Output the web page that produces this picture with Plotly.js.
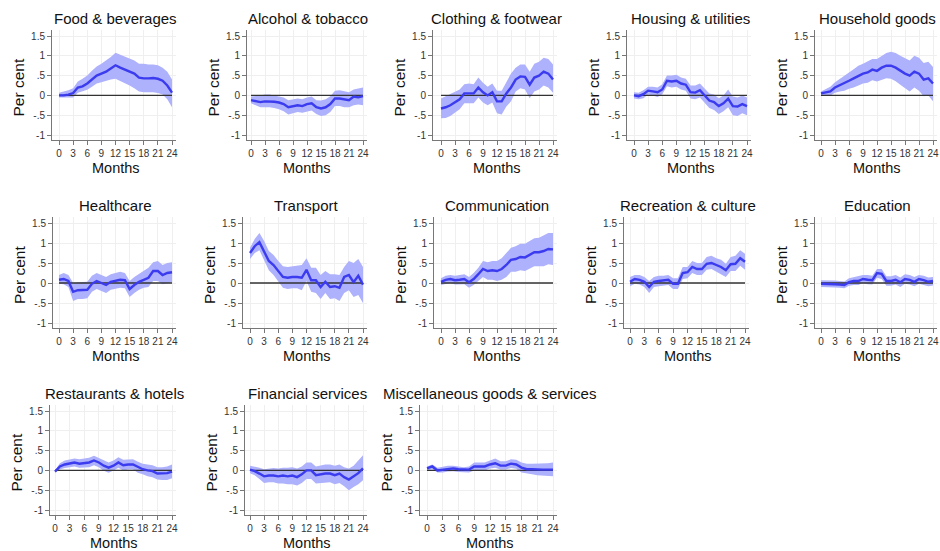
<!DOCTYPE html>
<html><head><meta charset="utf-8">
<script src="https://cdn.plot.ly/plotly-3.0.1.min.js"></script>
<style>html,body{margin:0;padding:0;background:#fff}#chart{width:940px;height:551px}</style>
</head><body><div id="chart"></div>
<script>
const months = [0,1,2,3,4,5,6,7,8,9,10,11,12,13,14,15,16,17,18,19,20,21,22,23,24];
const titles = ["Food & beverages","Alcohol & tobacco","Clothing & footwear","Housing & utilities","Household goods",
  "Healthcare","Transport","Communication","Recreation & culture","Education",
  "Restaurants & hotels","Financial services","Miscellaneous goods & services"];
const yTickVals = [-1,-0.5,0,0.5,1,1.5];
const yTickText = ["-1","-.5","0",".5","1","1.5"];
const xTickVals = [0,3,6,9,12,15,18,21,24];

const foodMid = [0,0,0.02,0.06,0.2,0.23,0.3,0.4,0.5,0.55,0.6,0.68,0.76,0.7,0.65,0.6,0.55,0.45,0.43,0.43,0.44,0.42,0.37,0.25,0.07];
const foodUp  = [0.07,0.1,0.13,0.18,0.35,0.42,0.5,0.62,0.73,0.8,0.88,0.97,1.08,1.03,0.98,0.93,0.88,0.8,0.8,0.78,0.78,0.76,0.7,0.6,0.4];
const foodLo  = [-0.05,-0.05,-0.06,-0.05,0.07,0.1,0.14,0.22,0.3,0.33,0.37,0.4,0.42,0.37,0.3,0.25,0.18,0.1,0.08,0.08,0.08,0.06,0.02,-0.1,-0.3];

const alcMid = [-0.12,-0.15,-0.17,-0.15,-0.15,-0.16,-0.18,-0.22,-0.3,-0.28,-0.25,-0.27,-0.22,-0.2,-0.3,-0.33,-0.3,-0.22,-0.08,-0.08,-0.1,-0.12,-0.03,-0.05,-0.02];
const alcUp  = [-0.03,-0.02,0,0.02,0.02,0,-0.02,-0.05,-0.12,-0.1,-0.08,-0.1,-0.05,-0.03,-0.12,-0.13,-0.1,-0.02,0.12,0.13,0.1,0.08,0.15,0.17,0.2];
const alcLo  = [-0.2,-0.25,-0.3,-0.3,-0.3,-0.32,-0.35,-0.4,-0.48,-0.45,-0.42,-0.44,-0.4,-0.38,-0.47,-0.52,-0.5,-0.42,-0.27,-0.27,-0.3,-0.3,-0.25,-0.23,-0.25];

const cloMid = [-0.33,-0.3,-0.25,-0.17,-0.1,0.05,0.05,0.05,0.2,0.08,0,0.08,-0.15,-0.15,0.05,0.2,0.4,0.48,0.47,0.27,0.45,0.5,0.6,0.55,0.4];
const cloUp  = [-0.08,-0.02,0.03,0.08,0.15,0.28,0.3,0.28,0.45,0.32,0.22,0.3,0.12,0.12,0.35,0.55,0.7,0.78,0.78,0.6,0.8,0.85,0.95,0.92,0.78];
const cloLo  = [-0.58,-0.57,-0.52,-0.43,-0.35,-0.2,-0.2,-0.2,-0.05,-0.18,-0.25,-0.18,-0.45,-0.48,-0.28,-0.15,0.1,0.18,0.15,-0.07,0.1,0.15,0.25,0.2,0.07];

const houMid = [0,-0.02,0.03,0.12,0.1,0.08,0.15,0.37,0.35,0.37,0.3,0.27,0.08,0.07,0.13,0,-0.13,-0.17,-0.27,-0.2,-0.08,-0.27,-0.28,-0.22,-0.27];
const houUp  = [0.08,0.07,0.13,0.22,0.22,0.2,0.28,0.5,0.5,0.52,0.45,0.42,0.25,0.25,0.3,0.18,0.05,0.02,-0.07,0,0.15,-0.03,-0.05,0,-0.05];
const houLo  = [-0.08,-0.1,-0.07,0.02,0,-0.04,0.03,0.23,0.2,0.22,0.15,0.12,-0.08,-0.1,-0.05,-0.18,-0.32,-0.37,-0.47,-0.4,-0.3,-0.5,-0.52,-0.45,-0.5];

const hhgMid = [0.05,0.08,0.1,0.2,0.25,0.3,0.37,0.43,0.5,0.55,0.58,0.65,0.62,0.7,0.75,0.75,0.7,0.62,0.55,0.5,0.6,0.55,0.4,0.43,0.3];
const hhgUp  = [0.1,0.15,0.22,0.33,0.42,0.5,0.58,0.66,0.75,0.8,0.85,0.92,0.92,1,1.07,1.1,1.07,1,0.95,0.88,1,0.95,0.82,0.85,0.72];
const hhgLo  = [0,0.01,0,0.07,0.1,0.12,0.17,0.2,0.25,0.3,0.32,0.38,0.35,0.4,0.43,0.42,0.36,0.27,0.18,0.1,0.2,0.12,-0.02,0,-0.15];

const hltMid = [0.08,0.1,0.05,-0.22,-0.18,-0.18,-0.17,-0.02,0.05,0,-0.05,0.03,0.05,0.08,0.07,-0.15,-0.05,0.03,0.08,0.13,0.3,0.3,0.2,0.25,0.27];
const hltUp  = [0.2,0.25,0.2,0,0.02,0.02,0.03,0.18,0.25,0.2,0.15,0.22,0.25,0.28,0.25,0.05,0.15,0.22,0.3,0.38,0.52,0.55,0.45,0.5,0.52];
const hltLo  = [-0.02,-0.03,-0.1,-0.45,-0.4,-0.4,-0.38,-0.22,-0.15,-0.2,-0.25,-0.17,-0.15,-0.12,-0.13,-0.35,-0.25,-0.17,-0.12,-0.1,0.05,0.05,-0.03,0,0.02];

const traMid = [0.75,0.92,1.02,0.8,0.55,0.45,0.3,0.15,0.13,0.15,0.15,0.13,0.33,0.07,0.07,-0.1,0.03,-0.1,-0.08,-0.12,0.15,0.2,0.02,0.18,-0.04];
const traUp  = [0.88,1.1,1.25,1.05,0.8,0.7,0.55,0.42,0.4,0.42,0.43,0.45,0.62,0.38,0.38,0.2,0.3,0.22,0.22,0.2,0.4,0.55,0.5,0.6,0.4];
const traLo  = [0.6,0.75,0.82,0.58,0.32,0.2,0.05,-0.12,-0.15,-0.13,-0.13,-0.18,0.05,-0.22,-0.25,-0.4,-0.25,-0.4,-0.38,-0.45,-0.25,-0.18,-0.35,-0.3,-0.5];

const comMid = [0.03,0.08,0.1,0.07,0.08,0.1,0.02,0.1,0.22,0.35,0.3,0.32,0.3,0.35,0.45,0.58,0.6,0.65,0.64,0.7,0.77,0.77,0.8,0.85,0.84];
const comUp  = [0.12,0.18,0.2,0.18,0.2,0.22,0.15,0.25,0.38,0.55,0.52,0.55,0.55,0.62,0.75,0.88,0.92,0.98,0.98,1.05,1.12,1.13,1.18,1.25,1.25];
const comLo  = [-0.05,-0.02,0,-0.04,-0.04,-0.03,-0.12,-0.05,0.05,0.15,0.08,0.08,0.05,0.08,0.15,0.28,0.28,0.32,0.3,0.35,0.42,0.42,0.42,0.47,0.45];

const recMid = [0.03,0.1,0.08,0.03,-0.1,0.03,0.05,0.06,0.08,-0.02,-0.02,0.25,0.27,0.4,0.35,0.35,0.48,0.5,0.45,0.4,0.32,0.47,0.48,0.62,0.53];
const recUp  = [0.15,0.2,0.2,0.15,0.05,0.15,0.18,0.18,0.2,0.12,0.12,0.4,0.4,0.55,0.5,0.5,0.65,0.68,0.62,0.58,0.48,0.65,0.68,0.82,0.73];
const recLo  = [-0.08,-0.02,-0.04,-0.1,-0.25,-0.1,-0.08,-0.06,-0.05,-0.15,-0.15,0.1,0.12,0.25,0.2,0.2,0.33,0.35,0.28,0.23,0.15,0.3,0.3,0.43,0.33];

const eduMid = [-0.02,-0.02,-0.02,-0.03,-0.04,-0.05,0.02,0.05,0.05,0.1,0.08,0.07,0.25,0.23,0.05,0.05,0.08,0.02,0.1,0.08,0.03,0.1,0.07,0.03,0.05];
const eduUp  = [0.07,0.07,0.07,0.06,0.05,0.04,0.12,0.15,0.17,0.2,0.2,0.18,0.35,0.35,0.17,0.17,0.2,0.14,0.22,0.2,0.15,0.2,0.18,0.14,0.15];
const eduLo  = [-0.1,-0.1,-0.1,-0.11,-0.12,-0.13,-0.07,-0.05,-0.05,0,-0.03,-0.04,0.13,0.1,-0.07,-0.07,-0.04,-0.1,-0.02,-0.04,-0.08,-0.02,-0.05,-0.08,-0.06];

const resMid = [-0.03,0.1,0.15,0.18,0.2,0.17,0.18,0.2,0.25,0.2,0.12,0.07,0.12,0.2,0.13,0.15,0.15,0.08,0.03,0,-0.02,-0.08,-0.08,-0.07,-0.03];
const resUp  = [0,0.18,0.25,0.28,0.3,0.28,0.3,0.32,0.37,0.32,0.25,0.2,0.25,0.33,0.27,0.28,0.28,0.22,0.17,0.15,0.13,0.08,0.08,0.1,0.15];
const resLo  = [-0.05,0.02,0.06,0.08,0.1,0.07,0.07,0.08,0.13,0.08,-0.01,-0.06,0,0.07,0,0.02,0.02,-0.06,-0.1,-0.15,-0.17,-0.23,-0.24,-0.24,-0.2];

const finMid = [0.02,-0.02,-0.08,-0.15,-0.13,-0.13,-0.15,-0.13,-0.15,-0.13,-0.17,-0.1,0,0,-0.12,-0.1,-0.08,-0.08,-0.12,-0.08,-0.17,-0.23,-0.15,-0.07,0.05];
const finUp  = [0.12,0.1,0.07,0.03,0.05,0.06,0.05,0.07,0.07,0.08,0.05,0.1,0.2,0.2,0.1,0.12,0.15,0.15,0.12,0.15,0.08,0.05,0.12,0.25,0.38];
const finLo  = [-0.07,-0.12,-0.22,-0.32,-0.3,-0.3,-0.33,-0.33,-0.35,-0.35,-0.38,-0.32,-0.22,-0.22,-0.33,-0.32,-0.3,-0.3,-0.35,-0.32,-0.4,-0.5,-0.42,-0.35,-0.25];

const misMid = [0.05,0.1,0,0.02,0.04,0.05,0.03,0.02,0.02,0.1,0.1,0.1,0.15,0.18,0.12,0.12,0.17,0.15,0.07,0.03,0.03,0.02,0.02,0.02,0.02];
const misUp  = [0.1,0.15,0.07,0.1,0.12,0.12,0.1,0.08,0.1,0.2,0.2,0.2,0.25,0.3,0.23,0.23,0.28,0.27,0.2,0.17,0.17,0.17,0.18,0.18,0.2];
const misLo  = [0,0.03,-0.05,-0.05,-0.03,-0.02,-0.04,-0.04,-0.05,0,0,0,0.05,0.07,0.02,0.02,0.06,0.04,-0.05,-0.08,-0.1,-0.12,-0.13,-0.13,-0.15];

const mids = [foodMid,alcMid,cloMid,houMid,hhgMid,hltMid,traMid,comMid,recMid,eduMid,resMid,finMid,misMid];
const ups  = [foodUp,alcUp,cloUp,houUp,hhgUp,hltUp,traUp,comUp,recUp,eduUp,resUp,finUp,misUp];
const los  = [foodLo,alcLo,cloLo,houLo,hhgLo,hltLo,traLo,comLo,recLo,eduLo,resLo,finLo,misLo];

// layout geometry in pixels: [axis left, x=0 px, x=24 px], row: [y=1.5 px, y=-1 px]
const W = 940, H = 551;
const colGeom = [[52,59,172],[247,251,363],[433,441,553],[627,634,747],[815,821,933],
                 [53,59,172],[243,250,363],[434,441,553],[624,630,745],[815,821,933],
                 [50,55,172],[245,250,363],[420,427,553]];
const rowGeom = [[36,135],[223,323],[411,510]];

const FONT = "Arial, 'Liberation Sans', sans-serif";
const data = [];
const layout = {width:W, height:H, margin:{l:0,r:0,t:0,b:0}, paper_bgcolor:'#fff', plot_bgcolor:'#fff',
  showlegend:false, annotations:[], font:{family:FONT, color:'#222'}};

for (let i = 0; i < titles.length; i++) {
  const n = i + 1;
  const xa = n === 1 ? 'x' : 'x' + n, ya = n === 1 ? 'y' : 'y' + n;
  const [L, x0, x24] = colGeom[i];
  const [y15, ym1] = rowGeom[Math.floor(i / 5)];
  const ppx = (x24 - x0) / 24;
  const rightPx = Math.min(x24 + 4, W);
  const xr = [-(x0 - L) / ppx, 24 + (rightPx - x24) / ppx];
  const ppy = (ym1 - y15) / 2.5;
  const topPx = y15 - 0.15 * ppy, botPx = ym1 + 0.13 * ppy;
  const ax = {domain:[L / W, rightPx / W], range:xr, tickvals:xTickVals, ticks:'outside', ticklen:4, tickcolor:'#777',
    showline:true, linecolor:'#777', linewidth:1, showgrid:true, gridcolor:'#efefef', zeroline:false,
    ticklabeloverflow:'allow', tickfont:{size:10, color:'#333', family:FONT}, anchor:ya, fixedrange:true};
  const ay = {domain:[1 - botPx / H, 1 - topPx / H], range:[-1.13, 1.65], tickvals:yTickVals, ticktext:yTickText,
    ticks:'outside', ticklen:4, tickcolor:'#777', showline:true, linecolor:'#777', linewidth:1, showgrid:true,
    gridcolor:'#efefef', zeroline:false, tickfont:{size:10, color:'#333', family:FONT}, anchor:xa, fixedrange:true};
  layout['xaxis' + (n === 1 ? '' : n)] = ax;
  layout['yaxis' + (n === 1 ? '' : n)] = ay;

  data.push({x:months, y:los[i], xaxis:xa, yaxis:ya, mode:'lines', line:{width:0, color:'rgba(0,0,0,0)'}, hoverinfo:'skip'});
  data.push({x:months, y:ups[i], xaxis:xa, yaxis:ya, mode:'lines', line:{width:0, color:'rgba(0,0,0,0)'},
    fill:'tonexty', fillcolor:'#aeb1fb', hoverinfo:'skip'});
  data.push({x:[months[0], months[months.length - 1]], y:[0, 0], xaxis:xa, yaxis:ya, mode:'lines',
    line:{width:1.3, color:'#333'}, hoverinfo:'skip'});
  data.push({x:months, y:mids[i], xaxis:xa, yaxis:ya, mode:'lines', line:{width:2.4, color:'#3b3bef'}});

  layout.annotations.push({text:titles[i], xref:'paper', yref:'paper', x:((L + x24 + 4) / 2 + 1) / W, y:1 - (topPx - 12) / H,
    xanchor:'center', yanchor:'middle', showarrow:false, font:{size:15, color:'#111', family:FONT}});
  layout.annotations.push({text:'Per cent', xref:'paper', yref:'paper', x:(L - 34) / W, y:1 - ((y15 + ym1) / 2 + 2) / H,
    xanchor:'center', yanchor:'middle', textangle:-90, showarrow:false, font:{size:15.5, color:'#111', family:FONT}});
  layout.annotations.push({text:'Months', xref:'paper', yref:'paper', x:((x0 + x24) / 2) / W, y:1 - (botPx + 28) / H,
    xanchor:'center', yanchor:'middle', showarrow:false, font:{size:14.5, color:'#111', family:FONT}});
}

Plotly.newPlot('chart', data, layout, {staticPlot:true, displayModeBar:false});
</script></body></html>
